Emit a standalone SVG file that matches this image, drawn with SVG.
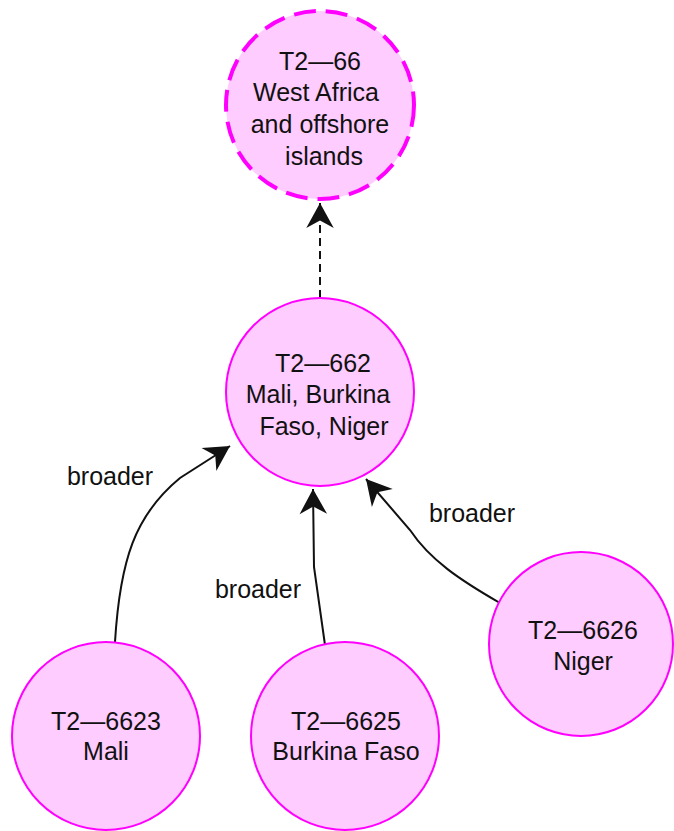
<svg xmlns="http://www.w3.org/2000/svg" width="674" height="831" viewBox="0 0 674 831">
<style>
.n{fill:#ffccff;stroke:#ff00ff;stroke-width:2}
.d{stroke-width:4;stroke-dasharray:22 10}
text{font-family:"Liberation Sans",Arial,sans-serif;font-size:25px;fill:#111;text-anchor:middle}
.e{fill:none;stroke:#111;stroke-width:2}
</style>
<defs>
<marker id="a" markerUnits="userSpaceOnUse" markerWidth="30" markerHeight="30" refX="0" refY="0" viewBox="-22 -12 24 24" orient="auto">
<path d="M0,0 L-20,-11 L-14,0 L-20,11 Z" fill="#111"/>
</marker>
</defs>
<rect width="674" height="831" fill="#fff"/>
<g id="connectors">
<path class="e" d="M320,298 L320,203" stroke-dasharray="8 5" marker-end="url(#a)"/>
<path class="e" d="M115,642 C120,560 135,515 180,478 L230,446" marker-end="url(#a)"/>
<path class="e" d="M325,645 L314,567 L313,489" marker-end="url(#a)"/>
<path class="e" d="M500,603 C460,580 430,560 410,530 L366,479" marker-end="url(#a)"/>
<text x="110" y="485">broader</text>
<text x="258" y="598">broader</text>
<text x="472" y="522">broader</text>
</g>
<g id="T2-66">
<circle class="n d" cx="320" cy="105" r="94"/>
<text x="320" y="70">T2—66</text>
<text x="316" y="101">West Africa</text>
<text x="320" y="133">and offshore</text>
<text x="324" y="165">islands</text>
</g>
<g id="T2-662">
<circle class="n" cx="320" cy="392" r="94"/>
<text x="323" y="372">T2—662</text>
<text x="318" y="403">Mali, Burkina</text>
<text x="324" y="435">Faso, Niger</text>
</g>
<g id="T2-6623">
<circle class="n" cx="106" cy="736" r="94"/>
<text x="106" y="730">T2—6623</text>
<text x="106" y="760">Mali</text>
</g>
<g id="T2-6625">
<circle class="n" cx="345" cy="736" r="94"/>
<text x="346" y="730">T2—6625</text>
<text x="346" y="760">Burkina Faso</text>
</g>
<g id="T2-6626">
<circle class="n" cx="581" cy="644" r="92"/>
<text x="583" y="639">T2—6626</text>
<text x="583" y="670">Niger</text>
</g>
</svg>
